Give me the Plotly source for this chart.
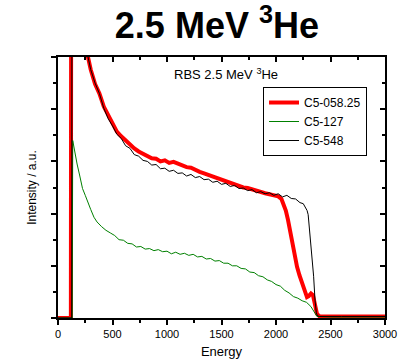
import plotly.graph_objects as go

# ---- data ----
energy_red = [0, 60, 118, 121, 126, 150, 200, 250, 275, 300, 340, 380, 420, 460, 500, 540, 580, 620, 660, 700, 740, 780, 820, 860, 900, 940, 980, 1020, 1060, 1100, 1140, 1180, 1220, 1260, 1300, 1340, 1380, 1420, 1460, 1500, 1540, 1580, 1620, 1660, 1700, 1740, 1780, 1820, 1860, 1900, 1940, 1980, 2020, 2050, 2070, 2090, 2110, 2130, 2156, 2175, 2193, 2215, 2238, 2260, 2284, 2300, 2321, 2339, 2355, 2376, 2400, 2600, 2800, 3000]
intensity_red = [0.0, 0.0, 0.0, 7.0, 7.0, 6.6, 5.85, 5.25, 5.0, 4.76, 4.48, 4.30, 4.05, 3.88, 3.73, 3.57, 3.48, 3.40, 3.33, 3.25, 3.19, 3.14, 3.11, 3.06, 3.05, 3.00, 3.02, 2.97, 2.99, 2.95, 2.92, 2.89, 2.88, 2.83, 2.80, 2.77, 2.74, 2.70, 2.67, 2.64, 2.61, 2.59, 2.55, 2.53, 2.50, 2.49, 2.46, 2.43, 2.42, 2.39, 2.37, 2.34, 2.33, 2.28, 2.16, 2.06, 1.88, 1.65, 1.36, 1.15, 0.98, 0.82, 0.67, 0.52, 0.40, 0.42, 0.47, 0.44, 0.30, 0.08, 0.03, 0.03, 0.03, 0.03]

energy_green = [0, 130, 135, 150, 175, 200, 225, 250, 275, 300, 330, 358, 400, 440, 480, 520, 560, 600, 640, 680, 720, 760, 800, 840, 880, 920, 960, 1000, 1040, 1080, 1120, 1160, 1200, 1240, 1280, 1320, 1360, 1400, 1440, 1480, 1520, 1560, 1600, 1640, 1680, 1720, 1760, 1800, 1840, 1880, 1920, 1960, 2000, 2040, 2080, 2120, 2160, 2200, 2240, 2280, 2320, 2340, 2360, 2376, 2500, 3000]
intensity_green = [0.0, 0.0, 3.4, 3.2, 2.95, 2.72, 2.48, 2.35, 2.20, 2.08, 1.93, 1.84, 1.75, 1.68, 1.63, 1.58, 1.50, 1.49, 1.43, 1.42, 1.36, 1.37, 1.32, 1.33, 1.29, 1.31, 1.27, 1.28, 1.23, 1.26, 1.22, 1.24, 1.20, 1.22, 1.17, 1.18, 1.13, 1.14, 1.09, 1.10, 1.05, 1.05, 1.00, 1.00, 0.95, 0.94, 0.88, 0.87, 0.81, 0.79, 0.73, 0.70, 0.64, 0.61, 0.53, 0.48, 0.41, 0.38, 0.33, 0.30, 0.22, 0.15, 0.07, 0.03, 0.02, 0.02]

energy_black = [0, 100, 126, 128, 135, 150, 175, 200, 225, 250, 275, 300, 340, 380, 420, 460, 500, 540, 580, 620, 660, 700, 740, 780, 820, 860, 900, 940, 980, 1020, 1060, 1100, 1140, 1180, 1220, 1260, 1300, 1340, 1380, 1420, 1460, 1500, 1540, 1580, 1620, 1660, 1700, 1740, 1780, 1820, 1860, 1900, 1940, 1980, 2020, 2060, 2100, 2140, 2180, 2220, 2250, 2270, 2285, 2295, 2305, 2315, 2330, 2345, 2358, 2370, 2380, 2400, 2600, 2800, 3000]
intensity_black = [0.0, 0.0, 0.0, 7.0, 7.0, 6.5, 6.1, 5.8, 5.5, 5.25, 5.02, 4.76, 4.50, 4.30, 4.02, 3.82, 3.68, 3.52, 3.44, 3.30, 3.25, 3.13, 3.10, 3.02, 3.00, 2.93, 2.94, 2.86, 2.87, 2.81, 2.83, 2.77, 2.78, 2.72, 2.75, 2.69, 2.71, 2.65, 2.66, 2.60, 2.62, 2.56, 2.58, 2.52, 2.54, 2.48, 2.49, 2.44, 2.46, 2.40, 2.42, 2.38, 2.40, 2.35, 2.38, 2.32, 2.35, 2.29, 2.28, 2.21, 2.19, 2.12, 2.06, 1.98, 1.75, 1.55, 1.30, 0.80, 0.34, 0.10, 0.04, 0.03, 0.03, 0.03, 0.03]

x_ticks = [0, 500, 1000, 1500, 2000, 2500, 3000]

FONT = "Liberation Sans, Arial, sans-serif"

fig = go.Figure()
fig.add_trace(go.Scatter(x=energy_red, y=intensity_red, mode="lines", name="C5-058.25",
                         line=dict(color="#ff0000", width=4)))
fig.add_trace(go.Scatter(x=energy_green, y=intensity_green, mode="lines", name="C5-127",
                         line=dict(color="#008000", width=1)))
fig.add_trace(go.Scatter(x=energy_black, y=intensity_black, mode="lines", name="C5-548",
                         line=dict(color="#000000", width=1)))
# invisible trace to drive the mirrored top/right axes
fig.add_trace(go.Scatter(x=[0], y=[0], xaxis="x2", yaxis="y2", mode="markers",
                         marker=dict(opacity=0), showlegend=False, hoverinfo="skip"))

axis_common = dict(showline=True, linecolor="black", linewidth=2, showgrid=False,
                   zeroline=False, ticklen=5, tickwidth=1.5, tickcolor="black",
                   automargin=False)

fig.update_layout(
    width=398, height=360,
    margin=dict(l=58, r=13, t=57, b=42),
    paper_bgcolor="white", plot_bgcolor="white",
    font=dict(family=FONT, color="black", size=11),
    title=dict(text="<b>2.5 MeV <sup>3</sup>He</b>", x=0.545, xanchor="center",
               y=0.93, yanchor="middle", font=dict(size=36, family=FONT, color="black")),
    xaxis=dict(range=[0, 3000], tickvals=x_ticks, ticks="outside",
               minor=dict(dtick=250, ticks="outside", ticklen=3, tickcolor="black", tickwidth=1.5),
               title=dict(text="Energy", font=dict(size=13), standoff=8),
               tickfont=dict(size=11), **axis_common),
    yaxis=dict(range=[0, 5], dtick=1, ticks="outside", showticklabels=False,
               minor=dict(dtick=0.5, ticks="outside", ticklen=3, tickcolor="black", tickwidth=1.5),
               title=dict(text="Intensity / a.u.", font=dict(size=12), standoff=12),
               **axis_common),
    xaxis2=dict(range=[0, 3000], overlaying="x", side="top", dtick=500, ticks="inside",
                showticklabels=False,
                minor=dict(dtick=250, ticks="inside", ticklen=3, tickcolor="black", tickwidth=1.5),
                **axis_common),
    yaxis2=dict(range=[0, 5], overlaying="y", side="right", dtick=1, ticks="inside",
                showticklabels=False,
                minor=dict(dtick=0.5, ticks="inside", ticklen=3, tickcolor="black", tickwidth=1.5),
                **axis_common),
    legend=dict(x=0.627, y=0.885, xanchor="left", yanchor="top",
                bordercolor="black", borderwidth=1, bgcolor="white",
                font=dict(size=12), tracegroupgap=0, itemwidth=30),
    annotations=[dict(text="RBS 2.5 MeV <sup>3</sup>He", x=0.515, y=0.975, xref="paper", yref="paper",
                      xanchor="center", yanchor="top", showarrow=False,
                      font=dict(size=13, family=FONT))],
    showlegend=True,
)

fig.write_html("out.html")
